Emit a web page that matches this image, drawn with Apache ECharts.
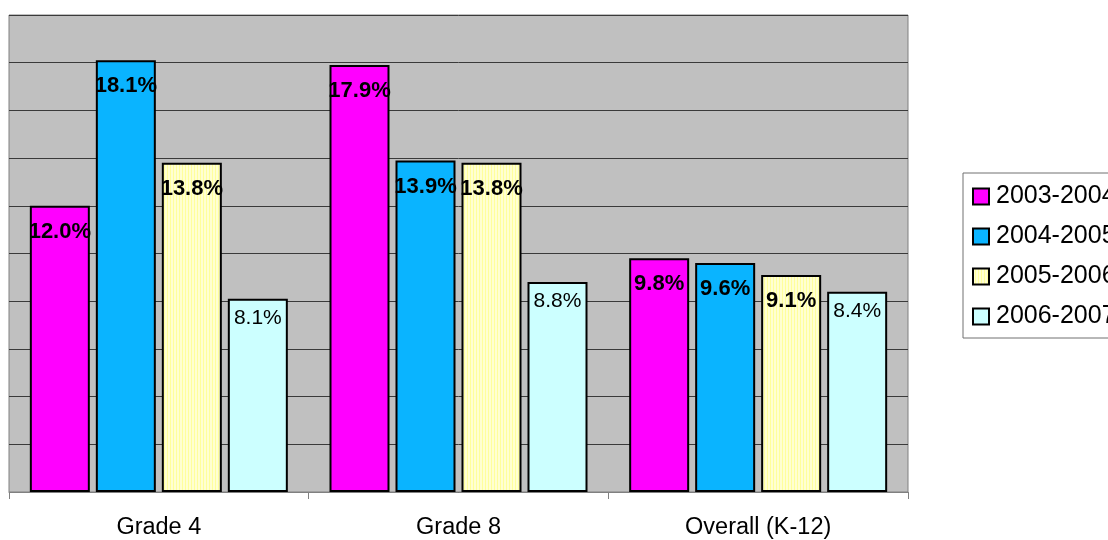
<!DOCTYPE html>
<html>
<head>
<meta charset="utf-8">
<script src="https://cdn.jsdelivr.net/npm/echarts@6/dist/echarts.min.js"></script>
<style>html,body{margin:0;padding:0;background:#fff;}#c{width:1108px;height:540px;}</style>
</head>
<body>
<div id="c"></div>
<script>
var categories = ['Grade 4', 'Grade 8', 'Overall (K-12)'];
var seriesNames = ['2003-2004', '2004-2005', '2005-2006', '2006-2007'];
var s2003 = [12.0, 17.9, 9.8];
var s2004 = [18.1, 13.9, 9.6];
var s2005 = [13.8, 13.8, 9.1];
var s2006 = [8.1, 8.8, 8.4];
var boldLabels = [true, true, true, false];

function stripePattern() {
  var cv = document.createElement('canvas');
  cv.width = 3; cv.height = 4;
  var ctx = cv.getContext('2d');
  ctx.fillStyle = '#FFFFD2'; ctx.fillRect(0, 0, 3, 4);
  ctx.fillStyle = '#FFFF9C'; ctx.fillRect(2, 0, 1, 4);
  return { image: cv, repeat: 'repeat' };
}
var colors = ['#FF00FF', '#0AB4FF', stripePattern(), '#CCFFFF'];
var allData = [s2003, s2004, s2005, s2006];
var font = '"Liberation Sans", Arial, sans-serif';

var chart = echarts.init(document.getElementById('c'), null, { renderer: 'canvas' });
var series = allData.map(function (d, i) {
  return {
    name: seriesNames[i],
    type: 'bar',
    data: d,
    barWidth: 60,
    barGap: '10%',
    itemStyle: { color: colors[i], borderColor: '#000', borderWidth: 2 },
    label: {
      show: true,
      position: 'insideTop',
      distance: boldLabels[i] ? 15 : 9,
      fontFamily: font,
      fontSize: boldLabels[i] ? 22 : 21,
      fontWeight: boldLabels[i] ? 'bold' : 'normal',
      color: '#000',
      formatter: function (p) { return p.value.toFixed(1) + '%'; }
    }
  };
});

chart.setOption({
  animation: false,
  textStyle: { fontFamily: font },
  grid: {
    left: 9, right: 200, top: 15, bottom: 48,
    show: true, backgroundColor: '#C0C0C0', borderColor: '#808080', borderWidth: 1
  },
  legend: {
    orient: 'vertical',
    left: 963, top: 173,
    padding: [11, 8, 9, 9],
    itemWidth: 16, itemHeight: 16,
    itemGap: 15,
    borderColor: '#707070', borderWidth: 1,
    backgroundColor: '#fff',
    textStyle: { fontSize: 25, color: '#000', fontFamily: font, padding: [0, 0, 0, 2] },
    data: seriesNames.map(function (n) { return { name: n, icon: 'rect' }; })
  },
  xAxis: {
    type: 'category',
    data: categories,
    axisLine: { lineStyle: { color: '#808080', width: 1 } },
    axisTick: { show: true, length: 7, lineStyle: { color: '#808080' } },
    axisLabel: { fontSize: 23.5, color: '#000', fontFamily: font, margin: 24 }
  },
  yAxis: {
    type: 'value',
    min: 0, max: 20, interval: 2,
    axisLabel: { show: false },
    axisLine: { show: false },
    axisTick: { show: false },
    splitLine: { lineStyle: { color: '#3a3a3a', width: 1 } }
  },
  series: series
});
</script>
</body>
</html>
